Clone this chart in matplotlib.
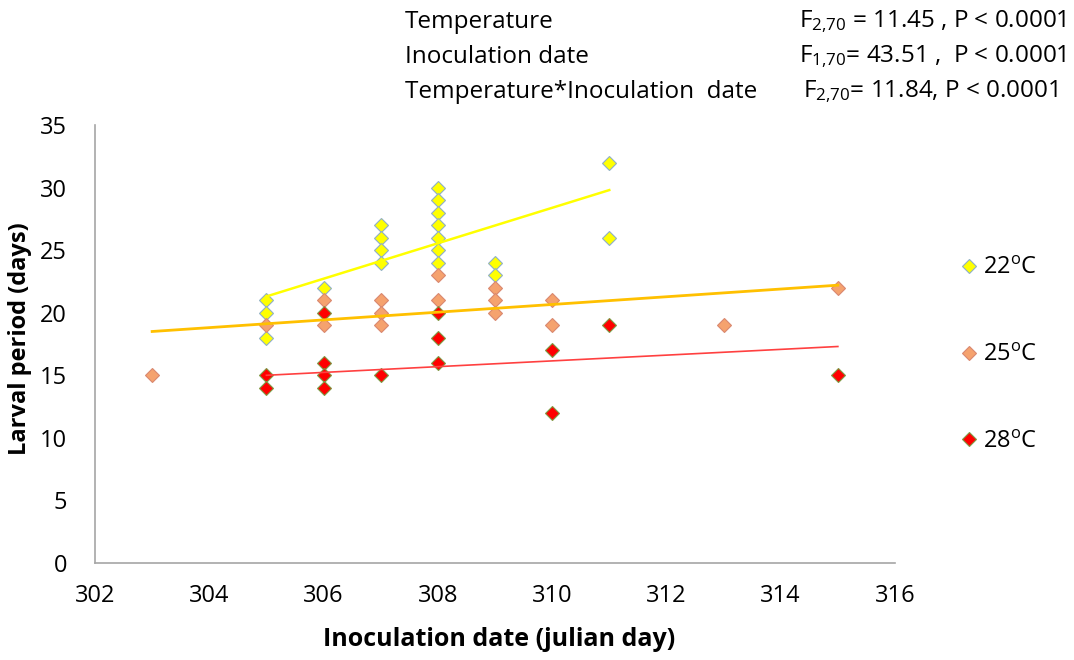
import numpy as np
import matplotlib.pyplot as plt

plt.rcParams['font.family'] = ['Open Sans', 'DejaVu Sans']
plt.rcParams['mathtext.fontset'] = 'custom'
plt.rcParams['mathtext.rm'] = 'Open Sans'
plt.rcParams['mathtext.it'] = 'Open Sans:italic'
plt.rcParams['mathtext.bf'] = 'Open Sans:bold'

# dati
x22 = [305, 305, 305, 306, 307, 307, 307, 307, 308, 308, 308, 308, 308, 308, 308, 309, 309, 311, 311]
y22 = [21, 20, 18, 22, 27, 26, 25, 24, 30, 29, 28, 27, 26, 25, 24, 24, 23, 32, 26]

x25 = [303, 305, 306, 306, 307, 307, 307, 308, 308, 309, 309, 309, 310, 310, 313, 315]
y25 = [15, 19, 21, 19, 21, 20, 19, 23, 21, 22, 21, 20, 21, 19, 19, 22]

x28 = [305, 305, 306, 306, 306, 306, 307, 308, 308, 308, 310, 310, 311, 315]
y28 = [15, 14, 20, 16, 15, 14, 15, 20, 18, 16, 17, 12, 19, 15]

# linee di tendenza (estremi)
trend_x = [[305, 311], [303, 315], [305, 315]]
trend_y = [[21.3, 29.8], [18.5, 22.2], [15.0, 17.3]]

labels = ['22$^{\\mathrm{o}}$C', '25$^{\\mathrm{o}}$C', '28$^{\\mathrm{o}}$C']
face = ['#FFFF00', '#F5A26E', '#FF0000']
edge = ['#8FAFC8', '#D98870', '#7E9A45']
line_col = ['#FFFF00', '#FFC000', '#FF4040']
line_w = [1.8, 2.0, 1.2]

fig = plt.figure(figsize=(10.74, 6.6), dpi=100)
ax = fig.add_axes([95 / 1074, 97 / 660, 800 / 1074, 438 / 660])

handles = []
for xs, ys, fc, ec in zip([x22, x25, x28], [y22, y25, y28], face, edge):
    h, = ax.plot(xs, ys, 'D', ms=7, mfc=fc, mec=ec, mew=0.8, ls='none', zorder=2)
    handles.append(h)

for tx, ty, c, w in zip(trend_x, trend_y, line_col, line_w):
    ax.plot(tx, ty, '-', color=c, lw=w, zorder=3)

ax.set_xlim(302, 316)
ax.set_ylim(0, 35)
ax.set_xticks(np.arange(302, 317, 2))
ax.set_yticks(np.arange(0, 36, 5))
ax.tick_params(length=0, labelsize=17)
ax.tick_params(axis='y', pad=20)
ax.tick_params(axis='x', pad=15)
for s in ['top', 'right']:
    ax.spines[s].set_visible(False)
for s in ['left', 'bottom']:
    ax.spines[s].set_color('#A6A6A6')
    ax.spines[s].set_linewidth(1.2)

fig.text(499 / 1074, 1 - 640 / 660, 'Inoculation date (julian day)', ha='center', va='center',
         fontsize=18, fontweight='bold')
fig.text(20 / 1074, 1 - 339 / 660, 'Larval period (days)', ha='center', va='center',
         rotation=90, fontsize=17, fontweight='bold')

leg = fig.legend(handles, labels, loc='center left', bbox_to_anchor=(950 / 1074, 1 - 355 / 660),
                 frameon=False, fontsize=17, labelspacing=2.65, handlelength=0.6,
                 handletextpad=0.3, borderpad=0)

# testo statistico in alto
rows = ['Temperature', 'Inoculation date', 'Temperature*Inoculation  date']
stats = ['F$_{2{,}70}$ = 11.45 , P < 0.0001', 'F$_{1{,}70}$= 43.51 ,  P < 0.0001',
         'F$_{2{,}70}$= 11.84, P < 0.0001']
row_y = [22, 57, 92]
stat_x = [1066, 1066, 1058]
for r, s, yy, sx in zip(rows, stats, row_y, stat_x):
    fig.text(405 / 1074, 1 - yy / 660, r, ha='left', va='center', fontsize=17.5)
    fig.text(sx / 1074, 1 - yy / 660, s, ha='right', va='center', fontsize=17.5)

plt.savefig('out.png', dpi=100)
